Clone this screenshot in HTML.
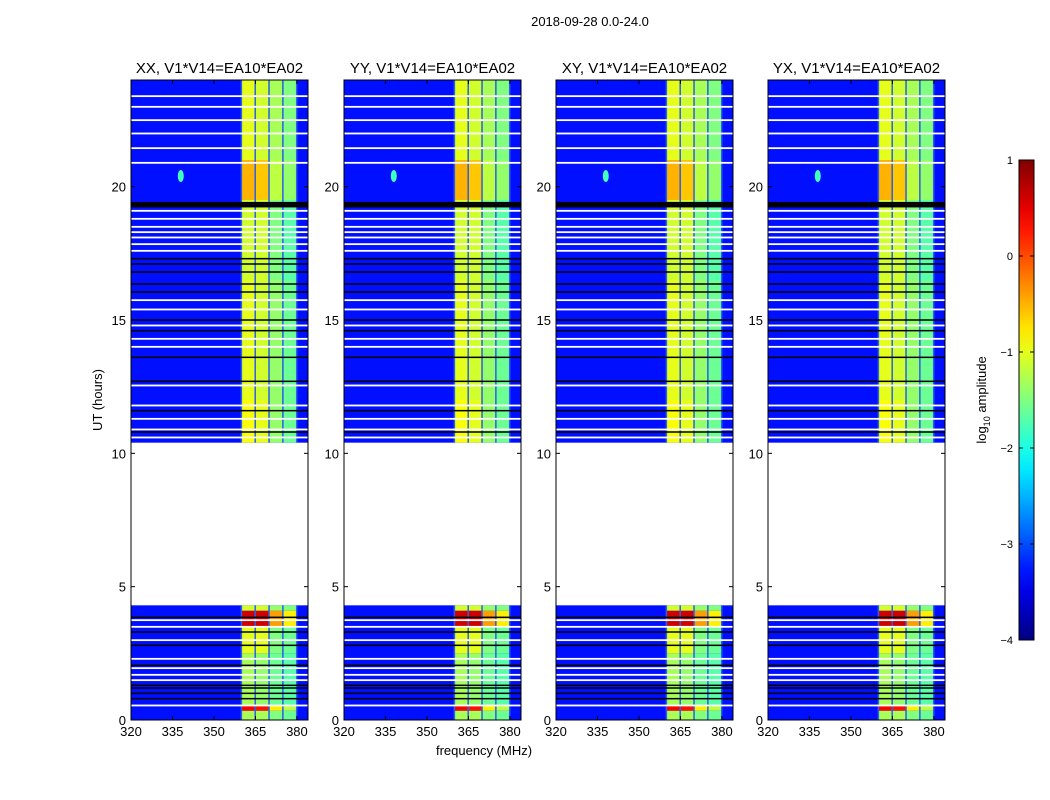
<!DOCTYPE html>
<html><head><meta charset="utf-8"><style>
body{margin:0;background:#fff;}
svg{display:block;font-family:"Liberation Sans","DejaVu Sans",sans-serif;}
</style></head><body>
<svg id="fig" width="1050" height="800">
<text x="590" y="26" font-size="13" text-anchor="middle">2018-09-28 0.0-24.0</text>
<text x="484" y="755" font-size="13" text-anchor="middle">frequency (MHz)</text>
<text transform="translate(102,400) rotate(-90)" font-size="13" text-anchor="middle">UT (hours)</text>
</svg>
<script>
const titles=["XX, V1*V14=EA10*EA02","YY, V1*V14=EA10*EA02","XY, V1*V14=EA10*EA02","YX, V1*V14=EA10*EA02"];
const panelLeft=[131,344,556,768];
const xTicks=[320,335,350,365,380];
const yTicks=[0,5,10,15,20];
const chanEdges=[360,365,370,375,380];
const segStart=[0,0.35,0.55,2.5,3.5,4.1,10.4,12.0,16.5,19.5,21.0];
const segEnd=[0.35,0.55,2.5,3.5,4.1,4.3,12.0,16.5,19.5,21.0,24];
const ampCh1=[-1.3,0.4,-1.3,-1.0,0.6,-1.1,-0.9,-1.0,-1.1,-0.5,-1.0];
const ampCh2=[-1.3,0.3,-1.4,-1.0,0.6,-1.1,-1.0,-1.1,-1.1,-0.6,-1.1];
const ampCh3=[-1.5,-0.8,-1.6,-1.5,-0.4,-1.4,-1.4,-1.4,-1.5,-1.2,-1.3];
const ampCh4=[-1.6,-1.2,-1.7,-1.6,-0.8,-1.5,-1.6,-1.6,-1.7,-1.4,-1.5];
const bgAmp=-3.3;
const gapStart=4.3, gapEnd=10.4;
const whiteRows=[0.55,1.5,1.7,1.95,2.3,3.0,3.5,3.75,10.6,10.9,11.3,11.8,12.55,14.0,14.3,14.8,15.4,15.75,17.6,17.85,18.1,18.3,18.5,18.8,19.1,20.9,21.45,22.0,22.5,23.0,23.4];
const blackRows=[0.8,1.0,1.2,1.3,2.05,2.8,3.3,3.85,10.8,11.6,12.7,13.6,14.6,15.0,16.05,16.35,16.8,17.1,17.3,19.25,19.3,19.35,19.4];
const cbTicks=[1,0,-1,-2,-3,-4];
const cbLabels=["1","0","\u22121","\u22122","\u22123","\u22124"];

const NS="http://www.w3.org/2000/svg";
const svgEl=document.getElementById('fig');
function mk(t,a,p){const e=document.createElementNS(NS,t);for(const k in a)e.setAttribute(k,a[k]);(p||svgEl).appendChild(e);return e;}
function jet(v){let t=(v+4)/5;t=Math.max(0,Math.min(1,t));
 const c=x=>Math.round(255*Math.max(0,Math.min(1,x)));
 const r=1.5-Math.abs(4*t-3),g=1.5-Math.abs(4*t-2),b=1.5-Math.abs(4*t-1);
 return `rgb(${c(r)},${c(g)},${c(b)})`;}
const W=177,topY=80,botY=720;
const yS=h=>botY-(h/24)*(botY-topY);
const amps=[ampCh1,ampCh2,ampCh3,ampCh4];
panelLeft.forEach((L,pi)=>{
 const xS=f=>L+(f-320)/(384-320)*W;
 const g=mk('g',{});
 
 
 [[0,gapStart],[gapEnd,24]].forEach(r=>{
  const e=mk('rect',{x:L,y:yS(r[1]),width:W,height:yS(r[0])-yS(r[1]),fill:jet(bgAmp)},g);
  
  
 });
 for(let c=0;c<4;c++){for(let s=0;s<segStart.length;s++){
  const e=mk('rect',{x:xS(chanEdges[c]),y:yS(segEnd[s]),width:xS(chanEdges[c]+5)-xS(chanEdges[c]),height:yS(segStart[s])-yS(segEnd[s]),fill:jet(amps[c][s])},g);
  
  
 }}
 chanEdges.forEach(f=>{[[0,gapStart],[gapEnd,24]].forEach(r=>{
  const e=mk('rect',{x:xS(f)-1,y:yS(r[1]),width:1.5,height:yS(r[0])-yS(r[1]),fill:'#2a60e8'},g);
  
  
 });});
 const sp=mk('ellipse',{cx:xS(338),cy:yS(20.4),rx:3,ry:6,fill:jet(-1.8)},g);
 
 
 whiteRows.forEach(h=>{const e=mk('rect',{x:L,y:yS(h)-0.75,width:W,height:1.8,fill:'#fff'},g);
  
  });
 blackRows.forEach(h=>{const e=mk('rect',{x:L,y:yS(h)-0.75,width:W,height:1.5,fill:'#000'},g);
  
  });
 const fr=mk('rect',{x:L,y:topY,width:W,height:botY-topY,fill:'none',stroke:'#000','stroke-width':1},g);
 
 
 const t=mk('text',{x:L+W/2,y:73,'font-size':15,'text-anchor':'middle'},g);t.textContent=titles[pi];
 
 
 xTicks.forEach(f=>{mk('line',{x1:xS(f),x2:xS(f),y1:botY,y2:botY-4,stroke:'#000'},g);mk('line',{x1:xS(f),x2:xS(f),y1:topY,y2:topY+4,stroke:'#000'},g);
  const tt=mk('text',{x:xS(f),y:botY+16,'font-size':13,'text-anchor':'middle'},g);tt.textContent=f;
  
  });
 yTicks.forEach(h=>{mk('line',{x1:L,x2:L+4,y1:yS(h),y2:yS(h),stroke:'#000'},g);mk('line',{x1:L+W,x2:L+W-4,y1:yS(h),y2:yS(h),stroke:'#000'},g);
  const tt=mk('text',{x:L-5,y:yS(h)+5,'font-size':13,'text-anchor':'end'},g);tt.textContent=h;
  
  });
});
const defs=mk('defs',{});
const lg=mk('linearGradient',{id:'jetg',x1:0,y1:1,x2:0,y2:0},defs);
for(let i=0;i<=20;i++){mk('stop',{offset:i/20,'stop-color':jet(-4+5*i/20)},lg);}
const cbT=160,cbB=640,cbX=1019,cbW=15;
const cyS=v=>cbB-(v+4)/5*(cbB-cbT);
const cb=mk('rect',{x:cbX,y:cbT,width:cbW,height:cbB-cbT,fill:'url(#jetg)',stroke:'#000'});


cbTicks.forEach((v,i)=>{mk('line',{x1:cbX,x2:cbX+4,y1:cyS(v),y2:cyS(v),stroke:'#000'});mk('line',{x1:cbX+cbW,x2:cbX+cbW-4,y1:cyS(v),y2:cyS(v),stroke:'#000'});
 const t=mk('text',{x:1013,y:cyS(v)+4,'font-size':11,'text-anchor':'end'});t.textContent=cbLabels[i];
 
 });
const cl=mk('text',{transform:'translate(986,400) rotate(-90)','font-size':13,'text-anchor':'middle'});
cl.innerHTML='log<tspan font-size="9" dy="4">10</tspan><tspan dy="-4"> amplitude</tspan>';


</script>
</body></html>
